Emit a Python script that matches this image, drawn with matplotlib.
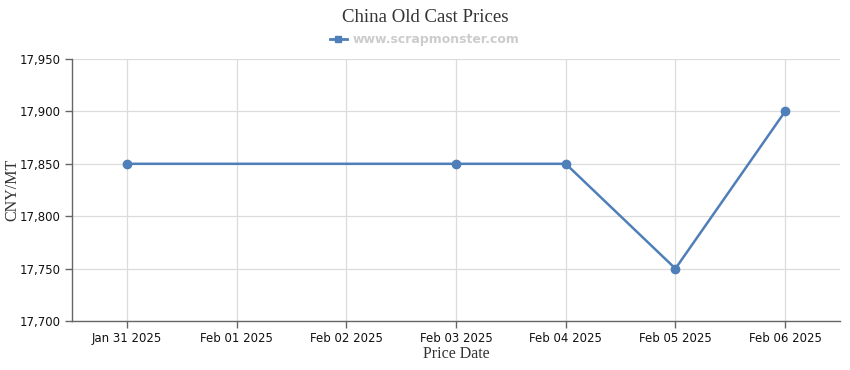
import numpy as np
import pandas as pd
import matplotlib
matplotlib.use('Agg')
import matplotlib.pyplot as plt
import matplotlib.dates as mdates
from matplotlib.ticker import FuncFormatter
from matplotlib.lines import Line2D

dates = pd.to_datetime(['2025-01-31', '2025-02-03', '2025-02-04', '2025-02-05', '2025-02-06'])
prices = [17850, 17850, 17850, 17750, 17900]
tick_dates = pd.date_range('2025-01-31', '2025-02-06', freq='D')
y_ticks = [17700, 17750, 17800, 17850, 17900, 17950]

line_color = '#4f7fb8'

fig = plt.figure(figsize=(8.5, 3.7), dpi=100)
ax = fig.add_axes([72 / 850, 1 - 321 / 370, 768 / 850, 262 / 370])

ax.plot(dates, prices, color=line_color, linewidth=1.8, marker='o', markersize=6, zorder=3)

ax.set_xlim(tick_dates[0] - pd.Timedelta(hours=12), tick_dates[-1] + pd.Timedelta(hours=12))
ax.set_ylim(17700, 17950)
ax.set_xticks(tick_dates)
ax.xaxis.set_major_formatter(mdates.DateFormatter('%b %d %Y'))
ax.set_yticks(y_ticks)
ax.yaxis.set_major_formatter(FuncFormatter(lambda v, p: f'{int(v):,}'))

ax.grid(True, color='#dcdcdc', linewidth=0.9)
ax.set_axisbelow(True)
for s in ['top', 'right']:
    ax.spines[s].set_visible(False)
for s in ['left', 'bottom']:
    ax.spines[s].set_color('#666666')
    ax.spines[s].set_linewidth(1)
ax.tick_params(axis='both', labelsize=8.5, colors='#666666', labelcolor='#111111', length=5, width=1)
ax.tick_params(axis='x', pad=3)

ax.set_xlabel('Price Date', family='Liberation Serif', fontsize=11.5, color='#333333', labelpad=1)
fig.text(12 / 850, 1 - 190 / 370, 'CNY/MT', rotation=90, ha='center', va='center',
         family='Liberation Serif', fontsize=11.5, color='#333333')

fig.text(0.5, 1 - 17 / 370, 'China Old Cast Prices', ha='center', va='center',
         family='Liberation Serif', fontsize=13.5, color='#333333')

handle = Line2D([], [], color=line_color, linewidth=2, marker='s', markersize=5)
fig.legend([handle], ['www.scrapmonster.com'], loc='center', bbox_to_anchor=(0.5, 1 - 40 / 370),
           frameon=False, handlelength=1.3, handletextpad=0.5,
           prop={'family': 'DejaVu Sans', 'size': 9, 'weight': 'bold'},
           labelcolor='#cccccc')

fig.savefig('out.png', dpi=100)
